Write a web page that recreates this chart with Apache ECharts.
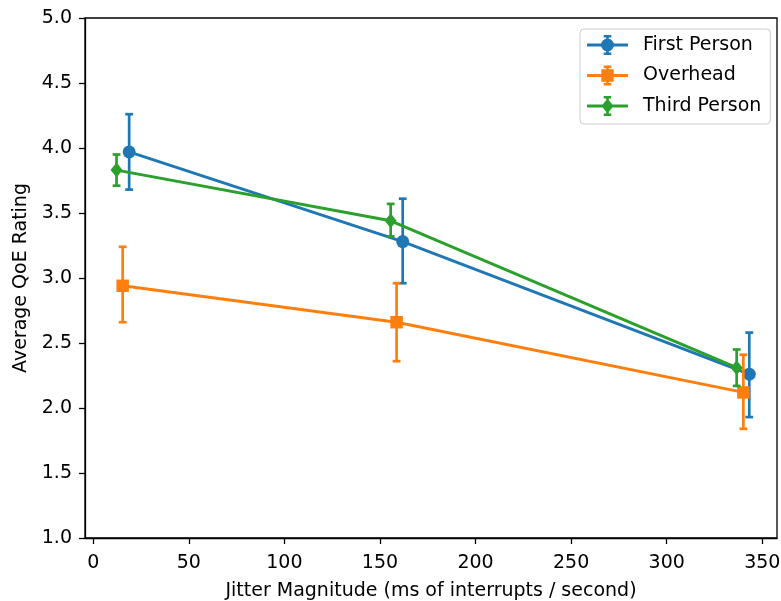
<!DOCTYPE html>
<html>
<head>
<meta charset="utf-8">
<script src="https://cdn.jsdelivr.net/npm/echarts@6/dist/echarts.min.js"></script>
<style>
html,body{margin:0;padding:0;background:#fff;}
#chart{width:781px;height:601px;}
</style>
</head>
<body>
<div id="chart"></div>
<script>
const seriesNames = ['First Person', 'Overhead', 'Third Person'];
const colors = ['#1f77b4', '#ff7f0e', '#2ca02c'];

const xFirst = [18.8, 161.9, 343.2];
const yFirst = [3.97, 3.28, 2.26];
const loFirst = [3.68, 2.96, 1.93];
const hiFirst = [4.26, 3.61, 2.58];

const xOver = [15.4, 158.7, 340.1];
const yOver = [2.94, 2.66, 2.12];
const loOver = [2.66, 2.36, 1.84];
const hiOver = [3.24, 2.96, 2.41];

const xThird = [12.2, 155.6, 336.6];
const yThird = [3.83, 3.44, 2.31];
const loThird = [3.71, 3.32, 2.17];
const hiThird = [3.95, 3.57, 2.45];

const xTicks = [0, 50, 100, 150, 200, 250, 300, 350];
const yTicks = [1.0, 1.5, 2.0, 2.5, 3.0, 3.5, 4.0, 4.5, 5.0];

const groups = [
  {x: xFirst, y: yFirst, lo: loFirst, hi: hiFirst, symbol: 'circle', size: 13},
  {x: xOver, y: yOver, lo: loOver, hi: hiOver, symbol: 'rect', size: 12.5},
  {x: xThird, y: yThird, lo: loThird, hi: hiThird, symbol: 'diamond', size: [12, 15]}
];

const FONT = 'DejaVu Sans';
const base = 'M0 8.5 h41 v3 h-41 Z M19.2 0 h2.6 v20 h-2.6 Z M16.7 0 h7.6 v2.5 h-7.6 Z M16.7 17.5 h7.6 v2.5 h-7.6 Z ';
const markerPaths = [
  'M14 10 A6.5 6.5 0 1 1 27 10 A6.5 6.5 0 1 1 14 10 Z',
  'M14.3 3.8 h12.4 v12.4 h-12.4 Z',
  'M20.5 2.5 L26.5 10 L20.5 17.5 L14.5 10 Z'
];

const series = [];
groups.forEach((g, i) => {
  const color = colors[i];
  series.push({
    type: 'custom',
    name: seriesNames[i] + ' err',
    z: 2 + i * 2,
    silent: true,
    data: g.x.map((xv, k) => [xv, g.y[k], g.lo[k], g.hi[k]]),
    encode: {x: 0, y: [2, 3]},
    renderItem: function (params, api) {
      const xv = api.value(0);
      const p1 = api.coord([xv, api.value(3)]);
      const p2 = api.coord([xv, api.value(2)]);
      const cap = 3.9;
      const st = {stroke: color, lineWidth: 2.7};
      return {
        type: 'group',
        children: [
          {type: 'line', shape: {x1: p1[0], y1: p1[1], x2: p2[0], y2: p2[1]}, style: st},
          {type: 'line', shape: {x1: p1[0] - cap, y1: p1[1], x2: p1[0] + cap, y2: p1[1]}, style: st},
          {type: 'line', shape: {x1: p2[0] - cap, y1: p2[1], x2: p2[0] + cap, y2: p2[1]}, style: st}
        ]
      };
    }
  });
  series.push({
    type: 'line',
    name: seriesNames[i],
    z: 3 + i * 2,
    data: g.x.map((xv, k) => [xv, g.y[k]]),
    symbol: g.symbol,
    symbolSize: g.size,
    showAllSymbol: true,
    lineStyle: {color: color, width: 3},
    itemStyle: {color: color, borderWidth: 0},
    emphasis: {disabled: true}
  });
});

const chart = echarts.init(document.getElementById('chart'), null, {renderer: 'canvas'});
chart.setOption({
  animation: false,
  backgroundColor: '#fff',
  textStyle: {fontFamily: FONT},
  grid: {left: 85, right: 4, top: 18, bottom: 63, outerBoundsMode: 'none', containLabel: false,
    show: true, borderColor: '#000', borderWidth: 1.3, backgroundColor: 'transparent'},
  legend: {
    orient: 'vertical',
    left: 580,
    top: 29,
    padding: [6, 9, 8, 7],
    itemWidth: 41,
    itemHeight: 20,
    itemGap: 10.5,
    itemTextGap: 15,
    borderColor: '#cccccc',
    borderWidth: 1,
    borderRadius: 4,
    backgroundColor: 'rgba(255,255,255,0.8)',
    selectedMode: false,
    textStyle: {fontFamily: FONT, fontSize: 19, color: '#000', padding: [0, 0, 0, 10]},
    itemStyle: {borderWidth: 0},
    data: seriesNames.map((n, i) => ({name: n, icon: 'path://' + base + markerPaths[i]}))
  },
  xAxis: {
    type: 'value',
    min: -4.3,
    max: 357.7,
    name: 'Jitter Magnitude (ms of interrupts / second)',
    nameLocation: 'middle',
    nameGap: 44,
    nameTextStyle: {fontFamily: FONT, fontSize: 19, color: '#000'},
    axisLine: {show: true, onZero: false, lineStyle: {color: '#000', width: 1.3}},
    axisTick: {show: true, length: 6, customValues: xTicks, lineStyle: {color: '#000', width: 1.3}},
    axisLabel: {show: true, margin: 16, customValues: xTicks, fontFamily: FONT, fontSize: 19, color: '#000'},
    splitLine: {show: false}
  },
  yAxis: {
    type: 'value',
    min: 1,
    max: 5,
    interval: 0.5,
    name: 'Average QoE Rating',
    nameLocation: 'middle',
    nameGap: 53,
    nameTextStyle: {fontFamily: FONT, fontSize: 19, color: '#000'},
    axisLine: {show: true, onZero: false, lineStyle: {color: '#000', width: 1.3}},
    axisTick: {show: true, length: 6, lineStyle: {color: '#000', width: 1.3}},
    axisLabel: {show: true, margin: 13, fontFamily: FONT, fontSize: 19, color: '#000',
      formatter: v => (yTicks.indexOf(v) >= 0 ? v.toFixed(1) : '')},
    splitLine: {show: false}
  },
  series: series
});
</script>
</body>
</html>
